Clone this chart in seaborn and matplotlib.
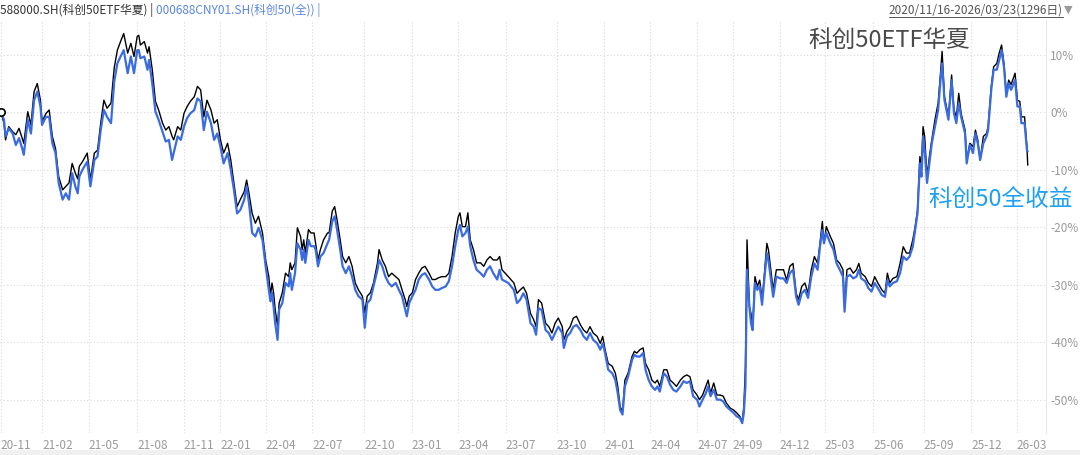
import matplotlib
matplotlib.use("Agg")
import matplotlib.pyplot as plt
import seaborn as sns
import pandas as pd
from matplotlib.patches import Rectangle
from matplotlib.lines import Line2D

# trading-day index since 2020/11/16
days = [0, 4, 6, 10, 15, 19, 23, 27, 29, 34, 38, 42, 46, 50, 52, 57, 61, 65, 69, 73,
        78, 82, 86, 90, 94, 97, 99, 103, 109, 113, 118, 122, 126, 130, 134, 139, 143, 147, 151, 155,
        160, 164, 168, 172, 174, 176, 181, 185, 187, 191, 195, 199, 204, 208, 212, 216, 218, 223, 227, 231,
        235, 239, 244, 248, 252, 256, 260, 265, 269, 273, 277, 281, 286, 290, 294, 298, 302, 307, 310, 313,
        317, 321, 325, 330, 334, 338, 340, 342, 344, 346, 349, 351, 355, 359, 363, 365, 367, 371, 374, 378,
        380, 382, 384, 388, 391, 395, 397, 400, 403, 407, 412, 414, 418, 421, 424, 428, 431, 435, 439, 443,
        447, 451, 456, 459, 462, 466, 470, 475, 477, 481, 485, 489, 493, 498, 502, 506, 510, 512, 515, 519,
        523, 527, 531, 535, 540, 544, 548, 552, 556, 561, 565, 569, 573, 577, 579, 582, 586, 589, 592, 596,
        600, 605, 609, 613, 617, 621, 626, 629, 632, 636, 640, 647, 651, 655, 659, 663, 668, 672, 675, 678,
        682, 687, 691, 695, 699, 703, 708, 710, 714, 718, 722, 726, 731, 735, 739, 743, 747, 752, 756, 759,
        762, 766, 771, 775, 778, 781, 784, 787, 791, 796, 799, 802, 806, 810, 813, 817, 821, 825, 828, 831,
        836, 840, 844, 848, 852, 857, 861, 865, 869, 873, 878, 881, 885, 889, 892, 895, 899, 903, 907, 911,
        915, 920, 924, 928, 932, 935, 937, 939, 941, 944, 946, 948, 951, 954, 957, 960, 962, 966, 968, 974,
        978, 983, 987, 991, 995, 999, 1003, 1006, 1010, 1014, 1018, 1022, 1026, 1030, 1033, 1036, 1038, 1041, 1046, 1050,
        1054, 1058, 1062, 1064, 1067, 1071, 1075, 1079, 1082, 1085, 1090, 1094, 1098, 1102, 1106, 1111, 1115, 1118, 1121, 1125,
        1130, 1134, 1138, 1142, 1146, 1150, 1153, 1156, 1159, 1161, 1163, 1165, 1168, 1171, 1174, 1178, 1182, 1185, 1187, 1190,
        1195, 1199, 1202, 1205, 1208, 1211, 1216, 1218, 1222, 1226, 1229, 1232, 1235, 1239, 1243, 1245, 1249, 1252, 1256, 1259,
        1262, 1265, 1268, 1271, 1274, 1279, 1282, 1285, 1287, 1291, 1294, 1295]

# 588000.SH 科创50ETF华夏, cumulative return (%)
etf_ret = [0.0, -1.9, -4.8, -2.5, -3.4, -3.9, -2.8, -4.5, -5.4, 0.1, -2.2, 3.6, 5.0, 2.1, -1.6, -0.2, 0.4, -4.2, -6.3, -11.2,
           -13.5, -12.9, -12.3, -8.9, -10.6, -11.6, -9.4, -8.6, -7.1, -11.8, -7.1, -6.6, -1.9, 2.1, 0.7, 1.6, 7.7, 10.8, 12.3, 13.7,
           10.3, 12.0, 9.7, 13.2, 13.4, 11.7, 12.3, 10.3, 11.4, 7.4, 1.9, 0.4, -1.9, -3.1, -2.5, -4.2, -4.8, -2.5, -3.1, -0.2,
           1.0, 1.9, 2.7, 4.5, 3.9, -0.8, 2.1, 0.4, -1.9, -1.3, -4.8, -7.1, -5.4, -8.3, -12.3, -16.4, -15.2, -13.8, -11.8, -14.1,
           -17.6, -19.3, -18.1, -21.0, -25.7, -28.6, -32.0, -29.7, -31.4, -34.3, -37.2, -33.2, -31.4, -28.0, -28.6, -26.2, -27.4, -26.2, -20.1, -21.6,
           -23.9, -22.2, -24.5, -20.4, -21.0, -21.0, -22.8, -25.7, -23.9, -22.2, -21.0, -21.0, -17.2, -16.4, -18.7, -22.2, -25.1, -26.2, -25.1, -26.8,
           -29.7, -30.9, -32.0, -34.9, -32.0, -31.4, -29.7, -26.2, -23.9, -25.7, -26.8, -28.6, -28.0, -28.6, -29.1, -30.9, -32.6, -33.8, -32.0, -31.4,
           -29.1, -28.0, -27.1, -26.8, -28.0, -29.1, -29.1, -28.8, -28.6, -28.6, -28.0, -25.1, -21.0, -18.1, -17.5, -19.9, -19.9, -17.5, -22.2, -23.9,
           -26.2, -26.2, -26.8, -25.7, -25.1, -25.7, -25.7, -25.1, -27.4, -28.0, -28.6, -29.7, -31.5, -30.9, -30.4, -31.5, -35.0, -36.1, -37.3, -32.6,
           -33.2, -36.7, -37.3, -38.4, -36.7, -35.8, -37.3, -39.6, -38.1, -37.3, -35.8, -35.5, -37.0, -37.9, -38.4, -37.3, -38.4, -39.0, -40.2, -39.0,
           -41.3, -43.7, -44.2, -45.4, -47.7, -51.2, -52.1, -46.6, -45.4, -42.5, -41.6, -41.9, -41.3, -41.0, -43.7, -44.8, -46.6, -47.1, -46.6, -47.7,
           -44.8, -44.8, -46.6, -47.1, -47.7, -46.6, -46.0, -45.7, -46.0, -48.3, -49.2, -50.0, -49.2, -47.7, -46.6, -48.9, -47.1, -49.2, -49.2, -49.4,
           -50.6, -51.5, -51.8, -52.3, -52.9, -53.8, -51.2, -44.2, -22.2, -33.8, -35.0, -37.9, -28.6, -30.3, -29.2, -32.6, -29.7, -22.8, -23.9, -30.9,
           -27.4, -27.4, -27.4, -29.2, -26.8, -26.3, -31.5, -32.6, -30.3, -29.7, -31.5, -27.4, -25.1, -26.3, -22.8, -19.0, -22.8, -19.9, -21.6, -22.8,
           -25.7, -26.3, -27.4, -33.8, -27.4, -27.1, -28.0, -27.4, -26.3, -28.0, -28.6, -29.7, -30.3, -28.6, -29.7, -30.9, -31.5, -28.0, -29.7, -28.9,
           -28.6, -26.3, -23.4, -24.5, -24.5, -22.2, -19.9, -17.0, -7.7, -9.4, -2.5, -4.2, -11.2, -7.7, -4.8, -1.3, 1.6, 6.8, 10.6, 2.7,
           -0.8, 6.5, 0.4, -0.8, 3.3, -0.2, -3.1, -8.3, -5.4, -6.0, -3.1, -4.8, -8.3, -4.2, -3.7, -2.5, 4.5, 7.9, 8.5, 10.3,
           11.7, 8.5, 3.3, 5.6, 4.8, 6.8, 2.1, 1.9, -0.8, -0.8, -6.0, -9.2]

# 000688CNY01.SH 科创50全收益, cumulative return (%)
index_ret = [0.0, -1.3, -4.2, -2.8, -3.7, -5.7, -4.5, -6.3, -7.4, -1.3, -3.7, 2.1, 3.6, 1.0, -2.2, -0.8, -0.8, -5.4, -7.1, -12.3,
             -15.2, -14.1, -15.2, -10.6, -12.9, -14.1, -11.2, -10.0, -8.6, -12.9, -8.3, -7.7, -3.1, 0.4, -0.8, -1.9, 5.3, 8.5, 9.7, 10.8,
             6.8, 9.7, 6.8, 10.8, 10.8, 9.4, 9.7, 7.4, 9.1, 5.0, 0.1, -1.3, -3.4, -5.1, -4.8, -8.3, -7.1, -4.2, -4.8, -2.5,
             -1.0, -0.2, 0.4, 2.4, 1.9, -3.1, 0.1, -1.9, -4.8, -3.7, -6.0, -8.9, -7.1, -10.0, -13.5, -17.6, -17.0, -15.2, -12.9, -15.8,
             -21.0, -21.6, -20.1, -22.2, -26.8, -30.9, -32.9, -31.4, -33.8, -36.7, -39.6, -34.3, -33.2, -29.7, -30.3, -28.0, -30.9, -28.0, -22.8, -23.9,
             -25.7, -23.9, -26.2, -22.2, -23.3, -23.3, -23.9, -26.8, -25.1, -24.5, -22.8, -22.2, -19.0, -18.1, -20.4, -23.9, -26.8, -28.0, -26.8, -28.6,
             -30.9, -32.0, -32.6, -37.5, -33.2, -32.6, -30.3, -27.4, -25.7, -26.8, -28.6, -29.7, -30.3, -29.7, -30.9, -32.0, -34.3, -35.5, -33.2, -32.0,
             -30.9, -29.1, -28.3, -28.0, -29.1, -30.3, -30.9, -30.9, -30.6, -30.3, -29.4, -26.8, -23.3, -20.4, -19.6, -21.6, -21.0, -19.9, -23.3, -25.7,
             -27.4, -28.0, -28.6, -27.4, -26.8, -28.0, -29.1, -27.4, -29.1, -29.4, -29.7, -30.9, -33.2, -32.6, -31.5, -32.6, -36.7, -37.3, -38.7, -34.1,
             -34.4, -37.9, -38.4, -39.6, -38.4, -37.3, -38.4, -41.0, -39.0, -38.4, -37.3, -37.0, -37.9, -39.0, -39.6, -38.4, -39.6, -40.2, -41.3, -40.2,
             -41.9, -44.8, -45.4, -46.6, -48.9, -51.8, -52.6, -47.7, -46.0, -43.1, -42.2, -42.5, -42.5, -41.9, -44.8, -46.6, -47.7, -48.3, -47.7, -48.6,
             -45.4, -46.0, -47.4, -48.3, -48.6, -47.7, -46.8, -47.1, -46.8, -49.4, -50.0, -51.2, -50.0, -48.9, -47.7, -49.4, -48.3, -50.0, -50.0, -50.3,
             -51.2, -51.8, -52.3, -52.9, -53.2, -54.1, -52.3, -47.7, -27.4, -33.8, -36.7, -37.9, -29.7, -30.9, -30.3, -33.5, -30.3, -24.5, -25.7, -32.1,
             -28.6, -28.9, -28.9, -29.7, -28.0, -27.4, -32.1, -33.5, -31.5, -30.9, -32.3, -28.6, -26.3, -27.4, -23.4, -20.5, -22.8, -21.0, -22.8, -23.9,
             -26.3, -27.4, -28.6, -34.7, -28.6, -28.3, -28.9, -28.6, -27.4, -28.9, -29.4, -30.6, -31.2, -29.7, -30.6, -31.8, -32.1, -29.2, -30.3, -29.7,
             -29.4, -28.0, -25.1, -25.7, -25.1, -23.4, -20.5, -17.6, -8.9, -11.2, -4.2, -6.6, -12.3, -8.9, -5.4, -2.5, 0.4, 5.6, 8.5, 2.1,
             -1.3, 5.6, -0.2, -1.9, 1.6, -0.8, -3.7, -8.9, -5.7, -7.1, -3.7, -5.4, -8.3, -5.4, -4.2, -3.1, 3.9, 7.4, 7.4, 9.1,
             10.8, 7.9, 2.7, 5.0, 3.9, 5.6, 1.0, 1.0, -1.9, -1.9, -6.6, -6.8]

tick_days = [0, 52, 111, 172, 231, 277, 334, 393, 458, 518, 577, 637, 701, 761, 819, 878, 923,
             982, 1039, 1100, 1164, 1224, 1281]
tick_labels = ["20-11", "21-02", "21-05", "21-08", "21-11", "22-01", "22-04", "22-07", "22-10",
               "23-01", "23-04", "23-07", "23-10", "24-01", "24-04", "24-07", "24-09", "24-12",
               "25-03", "25-06", "25-09", "25-12", "26-03"]
y_ticks = [10, 0, -10, -20, -30, -40, -50]

sns.set_theme(style="white")
plt.rcParams['font.family'] = ['Noto Sans CJK SC', 'DejaVu Sans']
plt.rcParams['axes.unicode_minus'] = False

fig = plt.figure(figsize=(10.8, 4.55), dpi=100)
ax = fig.add_axes([0.0, 0.0484, 0.9685, 0.9076])

df = pd.DataFrame({"day": days, "etf": etf_ret, "idx": index_ret})
sns.lineplot(data=df, x="day", y="etf", ax=ax, color="#000000", lw=1.0)
sns.lineplot(data=df, x="day", y="idx", ax=ax, color="#3a6be0", lw=1.6)
sns.scatterplot(x=[days[0]], y=[etf_ret[0]], ax=ax, marker="o", s=28,
                facecolor="white", edgecolor="black", linewidth=1.2, zorder=5)

ax.set_xlim(-1, 1318)
ax.set_ylim(-55.8, 16.05)
ax.set_xlabel("")
ax.set_ylabel("")
ax.set_xticks(tick_days)
ax.set_xticklabels(tick_labels, ha="left")
ax.yaxis.tick_right()
ax.set_yticks(y_ticks)
ax.set_yticklabels([f"{v}%" for v in y_ticks])
ax.tick_params(axis="x", length=0, pad=4, labelsize=8.5, labelcolor="#9a9a9a")
ax.tick_params(axis="y", length=0, pad=3, labelsize=8.5, labelcolor="#9a9a9a")
ax.grid(True, color="#d9d9d9", linestyle=(0, (1, 2)), lw=0.8)
for s in ["top", "left", "bottom"]:
    ax.spines[s].set_visible(False)
ax.spines["right"].set_color("#e8e8e8")
ax.spines["right"].set_linewidth(0.8)

# bottom strip
fig.add_artist(Rectangle((0, 0), 1, 5 / 455, transform=fig.transFigure,
                         facecolor="#f0f0f0", edgecolor="none"))

# annotations
fig.text(808 / 1080, 1 - 40 / 455, "科创50ETF华夏", fontsize=17, color="#4a4a4a",
         ha="left", va="center")
fig.text(928 / 1080, 1 - 199 / 455, "科创50全收益", fontsize=17, color="#1ea1f2",
         ha="left", va="center")

# header
fig.canvas.draw()
renderer = fig.canvas.get_renderer()
t1 = fig.text(0.0, 1 - 10 / 455, "588000.SH(科创50ETF华夏) | ", fontsize=8.5,
              color="#333333", ha="left", va="center")
bb = t1.get_window_extent(renderer)
fig.text(bb.x1 / 1080, 1 - 10 / 455, "000688CNY01.SH(科创50(全)) |", fontsize=8.5,
         color="#5a86e0", ha="left", va="center")
t3 = fig.text(1063 / 1080, 1 - 10 / 455, "2020/11/16-2026/03/23(1296日)", fontsize=8.5,
              color="#555555", ha="right", va="center")
bb3 = t3.get_window_extent(renderer)
fig.add_artist(Line2D([bb3.x0 / 1080, bb3.x1 / 1080], [1 - 17 / 455, 1 - 17 / 455],
                      transform=fig.transFigure, color="#555555", lw=0.7))
fig.text(1064 / 1080, 1 - 10 / 455, "▼", fontsize=8, color="#999999",
         ha="left", va="center", family=["DejaVu Sans"])

fig.savefig("out.png", dpi=100)
